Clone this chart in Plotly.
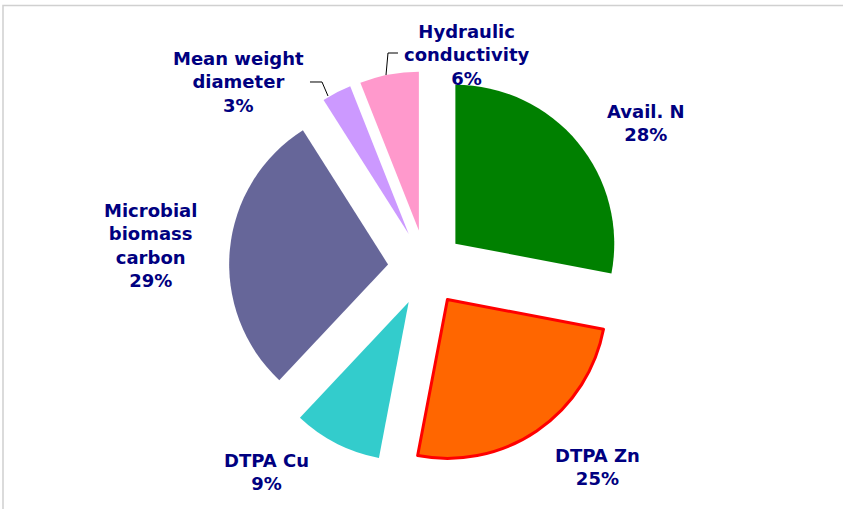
import plotly.graph_objects as go

# ---- data ----
labels = ["Avail. N", "DTPA Zn", "DTPA Cu", "Microbial<br>biomass<br>carbon",
          "Mean weight<br>diameter", "Hydraulic<br>conductivity"]
values = [28, 25, 9, 29, 3, 6]

# ---- styles ----
colors = ["#008000", "#FF6600", "#33CCCC", "#666699", "#CC99FF", "#FF99CC"]
line_colors = ["#008000", "#FF0000", "#33CCCC", "#666699", "#CC99FF", "#FF99CC"]
line_widths = [0, 3, 0, 0, 0, 0]
pulls = [0.24] * len(values)

W, H = 843, 509
cx, cy = 426, 268
half = 197

# label centre positions (pixels from top-left)
label_pos = [(646, 123), (597, 467), (266, 472), (150, 245), (239, 82), (467, 55)]

fig = go.Figure(go.Pie(
    labels=labels, values=values, sort=False, direction="clockwise", rotation=0,
    pull=pulls, automargin=False, textinfo="none",
    marker=dict(colors=colors, line=dict(color=line_colors, width=line_widths)),
    domain=dict(x=[(cx - half) / W, (cx + half) / W],
                y=[(H - cy - half) / H, (H - cy + half) / H]),
    showlegend=False, hoverinfo="label+percent",
))

total = sum(values)
annotations = []
for lab, val, (px, py) in zip(labels, values, label_pos):
    pct = round(100 * val / total)
    annotations.append(dict(
        x=px / W, y=1 - py / H, xref="paper", yref="paper",
        text=f"<b>{lab}<br>{pct}%</b>", showarrow=False,
        xanchor="center", yanchor="middle", align="center",
        font=dict(family="DejaVu Sans, Arial, sans-serif", size=18, color="#000080"),
    ))

def P(x, y):
    return f"{x / W:.5f},{1 - y / H:.5f}"

shapes = [
    dict(type="rect", xref="paper", yref="paper",
         x0=3 / W, x1=1.01, y0=-0.01, y1=1 - 5.5 / H,
         line=dict(color="#D0D0D0", width=1.5)),
    # leader line: Mean weight diameter
    dict(type="path", xref="paper", yref="paper",
         path=f"M{P(310, 82)} L{P(322, 82)} L{P(328, 96)}",
         line=dict(color="black", width=1)),
    # leader line: Hydraulic conductivity
    dict(type="path", xref="paper", yref="paper",
         path=f"M{P(398, 53)} L{P(388, 53)} L{P(386, 75)}",
         line=dict(color="black", width=1)),
]

fig.update_layout(
    width=W, height=H, margin=dict(l=0, r=0, t=0, b=0, autoexpand=False),
    paper_bgcolor="white", plot_bgcolor="white",
    annotations=annotations, shapes=shapes,
)
fig.write_html("out.html", config={"displayModeBar": False},
               post_script="document.body.style.margin='0';")
